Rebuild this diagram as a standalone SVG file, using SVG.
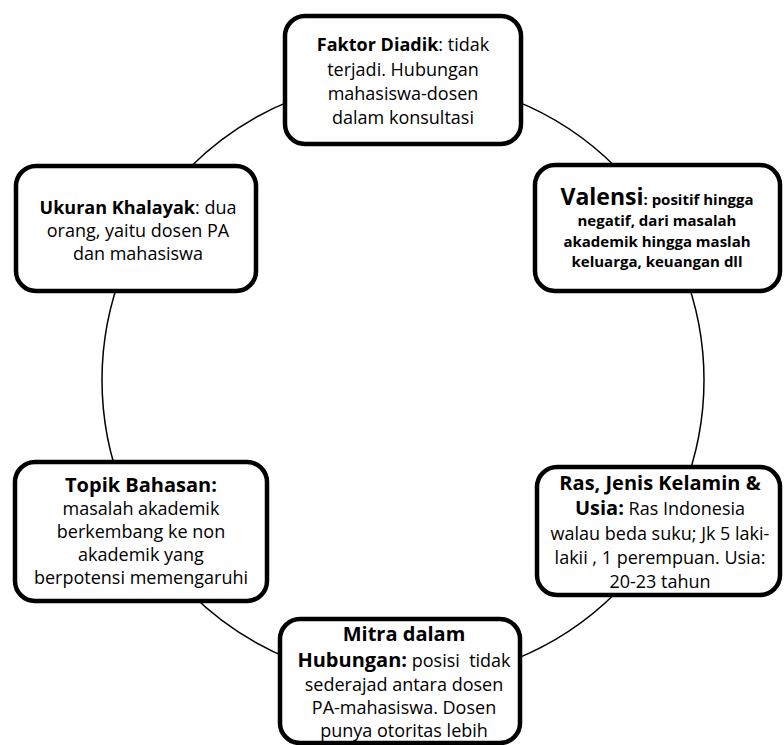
<svg xmlns="http://www.w3.org/2000/svg" width="784" height="745" viewBox="0 0 784 745">
<style>
.box{fill:#fff;stroke:#000;stroke-width:4.5}
.conn{fill:none;stroke:#000;stroke-width:1.5}
text{font-family:"Open Sans","Liberation Sans",sans-serif;fill:#000;text-anchor:middle}
.r{font-size:18px}
.b{font-weight:bold}
.t{font-size:20px;font-weight:bold}
</style>
<rect width="784" height="745" fill="#fff"/>
<g id="connectors">
<circle class="conn" cx="403" cy="380" r="301"/>
</g>
<g id="faktor">
<rect class="box" x="285" y="16" width="236" height="128" rx="20"/>
<text class="r" x="403" y="51"><tspan class="b">Faktor Diadik</tspan>: tidak</text>
<text class="r" x="403" y="76">terjadi. Hubungan</text>
<text class="r" x="403" y="100">mahasiswa-dosen</text>
<text class="r" x="403" y="124">dalam konsultasi</text>
</g>
<g id="valensi">
<rect class="box" x="535" y="165" width="245" height="126" rx="20"/>
<text class="b" x="657" y="205"><tspan font-size="23px">Valensi</tspan><tspan font-size="15px">: positif hingga</tspan></text>
<text class="b" x="657" y="226" font-size="15px">negatif, dari masalah</text>
<text class="b" x="657" y="247" font-size="15px">akademik hingga maslah</text>
<text class="b" x="657" y="267" font-size="15px">keluarga, keuangan dll</text>
</g>
<g id="ukuran">
<rect class="box" x="16" y="166" width="240" height="125" rx="20"/>
<text class="r" x="138" y="214"><tspan class="b">Ukuran Khalayak</tspan>: dua</text>
<text class="r" x="138" y="237">orang, yaitu dosen PA</text>
<text class="r" x="138" y="260">dan mahasiswa</text>
</g>
<g id="topik">
<rect class="box" x="15" y="462" width="252" height="139" rx="20"/>
<text class="t" x="141" y="492">Topik Bahasan:</text>
<text class="r" x="141" y="515">masalah akademik</text>
<text class="r" x="141" y="538">berkembang ke non</text>
<text class="r" x="141" y="561">akademik yang</text>
<text class="r" x="141" y="584">berpotensi memengaruhi</text>
</g>
<g id="ras">
<rect class="box" x="537" y="467" width="243" height="128" rx="20"/>
<text class="t" x="660" y="490">Ras, Jenis Kelamin &amp;</text>
<text class="r" x="660" y="515"><tspan class="t">Usia:</tspan> Ras Indonesia</text>
<text class="r" x="660" y="540">walau beda suku; Jk 5 laki-</text>
<text class="r" x="660" y="564">lakii , 1 perempuan. Usia:</text>
<text class="r" x="660" y="588">20-23 tahun</text>
</g>
<g id="mitra">
<rect class="box" x="280" y="619" width="240" height="124" rx="20"/>
<text class="t" x="404" y="641">Mitra dalam</text>
<text class="r" x="404" y="667"><tspan class="t">Hubungan:</tspan> posisi&#160; tidak</text>
<text class="r" x="404" y="691">sederajad antara dosen</text>
<text class="r" x="404" y="714">PA-mahasiswa. Dosen</text>
<text class="r" x="404" y="737">punya otoritas lebih</text>
</g>
</svg>
